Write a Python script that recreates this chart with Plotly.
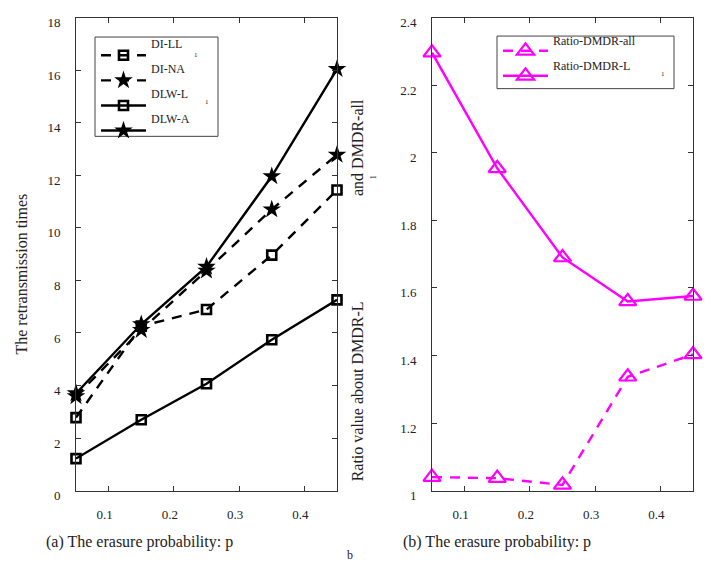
import plotly.graph_objects as go

# ---------------- data ----------------
p = [0.05, 0.15, 0.25, 0.35, 0.45]

di_ll = [2.78, 6.26, 6.89, 8.96, 11.44]
di_na = [3.59, 6.11, 8.37, 10.70, 12.78]
dlw_l = [1.22, 2.70, 4.07, 5.74, 7.26]
dlw_a = [3.70, 6.33, 8.52, 11.96, 16.04]

ratio_all = [1.04, 1.037, 1.017, 1.337, 1.403]
ratio_l = [2.296, 1.954, 1.69, 1.56, 1.576]

x_ticks = [0.1, 0.2, 0.3, 0.4]
y1_ticks = [0, 2, 4, 6, 8, 10, 12, 14, 16, 18]
y2_ticks = [1, 1.2, 1.4, 1.6, 1.8, 2, 2.2, 2.4]
y2_labels = ["1", "1.2", "1.4", "1.6", "1.8", "2", "2.2", "2.4"]

names_a = ["DI-LL", "DI-NA", "DLW-L", "DLW-A"]
names_b = ["Ratio-DMDR-all", "Ratio-DMDR-L"]

# ---------------- figure ----------------
W, H = 711, 564
FONT = "Liberation Serif, Times New Roman, serif"
MAG = "#ff00ff"
TXT = "#222"

fig = go.Figure()

def px_x(v):
    return v / W

def px_y(v):
    return 1 - v / H

def lg(name):
    # legend label drawn on the upper line of a two-line entry
    return "<span style='font-size:12px'>" + name + "</span><br>&nbsp;"

sq = dict(symbol="square-open", size=9, color="black", line=dict(width=2.6, color="black"))
st = dict(symbol="star", size=14, color="black", line=dict(width=0))
tri = dict(symbol="triangle-up-open", size=15, color=MAG, line=dict(width=2.2, color=MAG))

fig.add_trace(go.Scatter(x=p, y=di_ll, name=lg(names_a[0]), mode="lines+markers",
                         line=dict(color="black", width=2.4, dash="10px,8px"),
                         marker=sq, cliponaxis=False, legend="legend", legendgroup="a"))
fig.add_trace(go.Scatter(x=p, y=di_na, name=lg(names_a[1]), mode="lines+markers",
                         line=dict(color="black", width=2.4, dash="10px,8px"),
                         marker=st, cliponaxis=False, legend="legend", legendgroup="b"))
fig.add_trace(go.Scatter(x=p, y=dlw_l, name=lg(names_a[2]), mode="lines+markers",
                         line=dict(color="black", width=2.4),
                         marker=sq, cliponaxis=False, legend="legend", legendgroup="c"))
fig.add_trace(go.Scatter(x=p, y=dlw_a, name=lg(names_a[3]), mode="lines+markers",
                         line=dict(color="black", width=2.4),
                         marker=st, cliponaxis=False, legend="legend", legendgroup="d"))

fig.add_trace(go.Scatter(x=p, y=ratio_all, name=lg(names_b[0]), mode="lines+markers",
                         line=dict(color=MAG, width=2.4, dash="10px,8px"),
                         marker=tri, cliponaxis=False, xaxis="x2", yaxis="y2",
                         legend="legend2", legendgroup="e"))
fig.add_trace(go.Scatter(x=p, y=ratio_l, name=lg(names_b[1]), mode="lines+markers",
                         line=dict(color=MAG, width=2.4),
                         marker=tri, cliponaxis=False, xaxis="x2", yaxis="y2",
                         legend="legend2", legendgroup="f"))

axis_common = dict(showline=True, linecolor="#333", linewidth=1, mirror="ticks",
                   ticks="inside", ticklen=5, tickcolor="#333", tickwidth=1,
                   showgrid=False, zeroline=False,
                   tickfont=dict(family=FONT, size=13, color=TXT))

ydom = [1 - 502 / H, 1 - 16 / H]

legend_common = dict(xanchor="left", yanchor="top", valign="bottom",
                     bgcolor="rgba(0,0,0,0)", borderwidth=0, itemwidth=45)

fig.update_layout(
    width=W, height=H,
    margin=dict(l=0, r=0, t=0, b=0),
    paper_bgcolor="white", plot_bgcolor="white",
    font=dict(family=FONT, color=TXT),
    xaxis=dict(domain=[76 / W, 337 / W], range=[0.05, 0.45], tickvals=x_ticks,
               ticktext=[str(v) for v in x_ticks], ticklabelstandoff=12,
               ticklabelshift=-4, **axis_common),
    yaxis=dict(domain=ydom, range=[0, 18], tickvals=y1_ticks,
               ticklabelstandoff=12, ticklabelshift=5, **axis_common),
    xaxis2=dict(domain=[432 / W, 693 / W], range=[0.05, 0.45], tickvals=x_ticks,
                ticktext=[str(v) for v in x_ticks], anchor="y2", ticklabelstandoff=12,
                ticklabelshift=-4, **axis_common),
    yaxis2=dict(domain=ydom, range=[1, 2.4], tickvals=y2_ticks, ticktext=y2_labels,
                anchor="x2", ticklabelstandoff=12, ticklabelshift=5, **axis_common),
    legend=dict(x=px_x(96), y=px_y(31), tracegroupgap=0,
                font=dict(family=FONT, size=8.5, color=TXT), **legend_common),
    legend2=dict(x=px_x(498), y=px_y(31), tracegroupgap=6,
                 font=dict(family=FONT, size=6, color=TXT), **legend_common),
    showlegend=True,
)

# legend boxes
fig.add_shape(type="rect", xref="paper", yref="paper",
              x0=px_x(95), x1=px_x(218), y0=px_y(138), y1=px_y(36),
              line=dict(color="#444", width=1))
fig.add_shape(type="rect", xref="paper", yref="paper",
              x0=px_x(497), x1=px_x(674), y0=px_y(89), y1=px_y(35),
              line=dict(color="#444", width=1))

def ann(text, x, y, size=14, angle=0):
    fig.add_annotation(text=text, x=px_x(x), y=px_y(y), xref="paper", yref="paper",
                       showarrow=False, textangle=angle,
                       font=dict(family=FONT, size=size, color=TXT),
                       xanchor="center", yanchor="middle")

ann("The retransmission times", 22, 280, size=16, angle=-90)
ann("Ratio value about DMDR-L", 357, 400, size=16, angle=-90)
ann("and DMDR-all", 357, 150, size=16, angle=-90)
ann("1", 373, 180, size=8, angle=-90)
ann("1", 196, 54, size=7)
ann("1", 207, 103, size=7)
ann("1", 663, 74, size=7)
ann("(a) The erasure probability: p", 139, 555, size=16)
ann("(b) The erasure probability: p", 497, 555, size=16)
ann("b", 350, 568, size=12)

fig.write_html("out.html")
